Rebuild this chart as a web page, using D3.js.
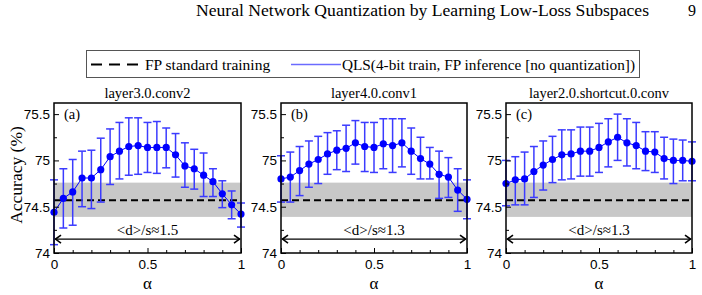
<!DOCTYPE html>
<html><head><meta charset="utf-8">
<script src="https://cdn.jsdelivr.net/npm/d3@7"></script>
<style>body{margin:0;background:#fff}svg{display:block}</style>
</head><body>
<svg id="c" width="702" height="295"></svg>
<script>
const alphas = [0,0.05,0.1,0.15,0.2,0.25,0.3,0.35,0.4,0.45,0.5,0.55,0.6,0.65,0.7,0.75,0.8,0.85,0.9,0.95,1];
const panelTitles = ["layer3.0.conv2","layer4.0.conv1","layer2.0.shortcut.0.conv"];
const panelTags = ["(a)","(b)","(c)"];
const ratioLabels = ["<d>/s\u22481.5","<d>/s\u22481.3","<d>/s\u22481.3"];
const accA = [74.44,74.59,74.66,74.81,74.81,74.90,75.04,75.10,75.15,75.16,75.14,75.14,75.14,75.06,74.94,74.91,74.84,74.77,74.64,74.52,74.42];
const hiA  = [74.79,74.91,75.01,75.10,75.11,75.24,75.34,75.41,75.46,75.46,75.41,75.42,75.35,75.29,75.19,75.12,75.08,74.91,74.78,74.67,74.54];
const loA  = [74.09,74.27,74.30,74.50,74.48,74.55,74.74,74.80,74.84,74.85,74.87,74.86,74.92,74.82,74.71,74.69,74.61,74.61,74.49,74.37,74.28];
const accB = [74.80,74.82,74.89,74.96,75.01,75.07,75.11,75.13,75.19,75.15,75.14,75.18,75.16,75.19,75.10,75.02,74.96,74.85,74.82,74.68,74.58];
const hiB  = [75.05,75.09,75.15,75.21,75.26,75.30,75.32,75.38,75.43,75.41,75.41,75.45,75.45,75.45,75.35,75.25,75.14,75.10,75.03,74.91,74.79];
const loB  = [74.55,74.55,74.62,74.71,74.75,74.85,74.90,74.88,74.96,74.88,74.87,74.91,74.87,74.93,74.85,74.80,74.80,74.59,74.60,74.45,74.37];
const accC = [74.75,74.79,74.80,74.88,74.95,75.01,75.06,75.07,75.10,75.10,75.14,75.20,75.25,75.19,75.16,75.10,75.09,75.02,75.00,75.00,74.99];
const hiC  = [75.00,75.04,75.09,75.15,75.21,75.26,75.33,75.33,75.36,75.36,75.40,75.45,75.50,75.45,75.41,75.31,75.31,75.25,75.23,75.22,75.20];
const loC  = [74.51,74.52,74.52,74.60,74.68,74.76,74.79,74.80,74.83,74.83,74.87,74.93,75.00,74.94,74.91,74.89,74.87,74.80,74.75,74.78,74.78];
const fpMean = 74.57, fpLo = 74.39, fpHi = 74.76;
const arrowLevel = 74.15;
const yTicks = [74, 74.5, 75, 75.5];
const yTickLabels = ["74","74.5","75","75.5"];
const yMinor = [74.25, 74.75, 75.25];
const xTicks = [0, 0.5, 1];
const xTickLabels = ["0","0.5","1"];
const xMinor = [0.1,0.2,0.3,0.4,0.6,0.7,0.8,0.9];
const headerText = "Neural Network Quantization by Learning Low-Loss Subspaces";
const pageNum = "9";
const legendLabels = ["FP standard training","QLS(4-bit train, FP inference [no quantization])"];

const series = [
  {acc: accA, lo: loA, hi: hiA},
  {acc: accB, lo: loB, hi: hiB},
  {acc: accC, lo: loC, hi: hiC}
];
const panelX = [[54,241],[281,467],[506,692]];
const plotTop = 103, plotBottom = 253;
const serif = "'Liberation Serif','Times New Roman',serif";
const sans = "'Liberation Sans',Arial,sans-serif";
const blue = "#0000ff", errBlue = "#3b3bff";

const svg = d3.select("#c");

// header
svg.append("text").attr("x", 196).attr("y", 16).attr("font-family", serif).attr("font-size", 16)
  .attr("textLength", 453).attr("lengthAdjust", "spacingAndGlyphs").text(headerText);
svg.append("text").attr("x", 696).attr("y", 16).attr("text-anchor","end").attr("font-family", serif).attr("font-size", 16).text(pageNum);

// legend
const lg = svg.append("g");
lg.append("rect").attr("x", 86.5).attr("y", 50.5).attr("width", 553).attr("height", 27)
  .attr("fill","#fff").attr("stroke","#555").attr("stroke-width",1);
lg.append("line").attr("x1",91).attr("x2",143).attr("y1",64.5).attr("y2",64.5)
  .attr("stroke","#000").attr("stroke-width",2).attr("stroke-dasharray","11,7");
lg.append("text").attr("x",145).attr("y",69.5).attr("font-family",serif).attr("font-size",15.5).text(legendLabels[0]);
lg.append("line").attr("x1",291).attr("x2",341).attr("y1",64.5).attr("y2",64.5)
  .attr("stroke","#6b6bff").attr("stroke-width",1.3);
lg.append("text").attr("x",342).attr("y",69.5).attr("font-family",serif).attr("font-size",15.5)
  .attr("textLength",293).attr("lengthAdjust","spacingAndGlyphs").text(legendLabels[1]);

// y label
svg.append("text").attr("transform","translate(22,175) rotate(-90)").attr("text-anchor","middle")
  .attr("font-family",serif).attr("font-size",17.5).text("Accuracy (%)");

series.forEach((s, i) => {
  const [x0, x1] = panelX[i];
  const x = d3.scaleLinear().domain([0,1]).range([x0, x1]);
  const y = d3.scaleLinear().domain([74, 75.62]).range([plotBottom, plotTop]);
  const g = svg.append("g");

  g.append("rect").attr("x", x(0)).attr("width", x(1)-x(0))
    .attr("y", y(fpHi)).attr("height", y(fpLo)-y(fpHi)).attr("fill","#c8c8c8");
  g.append("line").attr("x1", x(0)).attr("x2", x(1)).attr("y1", y(fpMean)).attr("y2", y(fpMean))
    .attr("stroke","#000").attr("stroke-width",2).attr("stroke-dasharray","7,4");

  const ay = y(arrowLevel);
  const ag = g.append("g").attr("stroke","#000").attr("fill","none").attr("stroke-width",1.2);
  ag.append("line").attr("x1", x(0)+1).attr("x2", x(1)-1).attr("y1", ay).attr("y2", ay);
  ag.append("path").attr("d", `M${x(0)+7},${ay-4} L${x(0)+1.5},${ay} L${x(0)+7},${ay+4}`).attr("stroke-width",1.6);
  ag.append("path").attr("d", `M${x(1)-7},${ay-4} L${x(1)-1.5},${ay} L${x(1)-7},${ay+4}`).attr("stroke-width",1.6);
  g.append("text").attr("x", (x(0)+x(1))/2).attr("y", ay-4).attr("text-anchor","middle")
    .attr("font-family",serif).attr("font-size",15).text(ratioLabels[i]);

  const eb = g.append("g").attr("stroke", errBlue).attr("stroke-width",1.5);
  alphas.forEach((a, j) => {
    const cx = x(a);
    eb.append("line").attr("x1",cx).attr("x2",cx).attr("y1",y(s.lo[j])).attr("y2",y(s.hi[j]));
    eb.append("line").attr("x1",cx-4).attr("x2",cx+4).attr("y1",y(s.lo[j])).attr("y2",y(s.lo[j]));
    eb.append("line").attr("x1",cx-4).attr("x2",cx+4).attr("y1",y(s.hi[j])).attr("y2",y(s.hi[j]));
  });
  g.append("path").datum(alphas.map((a,j)=>[a, s.acc[j]]))
    .attr("fill","none").attr("stroke",blue).attr("stroke-width",1)
    .attr("d", d3.line().x(d=>x(d[0])).y(d=>y(d[1])));
  g.selectAll("circle.pt").data(alphas.map((a,j)=>[a, s.acc[j]])).join("circle")
    .attr("cx", d=>x(d[0])).attr("cy", d=>y(d[1])).attr("r",3.6).attr("fill",blue);

  const ya = g.append("g").attr("transform",`translate(${x0},0)`)
    .call(d3.axisLeft(y).tickValues(yTicks).tickFormat((d,k)=>yTickLabels[k]).tickSizeInner(-5).tickSizeOuter(0).tickPadding(4));
  ya.select(".domain").remove();
  ya.selectAll("text").attr("font-family",sans).attr("font-size",13.5).attr("fill","#000");
  ya.selectAll("line").attr("stroke","#000");
  const ym = g.append("g").attr("transform",`translate(${x0},0)`)
    .call(d3.axisLeft(y).tickValues(yMinor).tickFormat("").tickSizeInner(-3).tickSizeOuter(0));
  ym.select(".domain").remove();

  const xa = g.append("g").attr("transform",`translate(0,${plotBottom})`)
    .call(d3.axisBottom(x).tickValues(xTicks).tickFormat((d,k)=>xTickLabels[k]).tickSizeInner(-5).tickSizeOuter(0).tickPadding(6));
  xa.select(".domain").remove();
  xa.selectAll("text").attr("font-family",sans).attr("font-size",13.5).attr("fill","#000");
  const xm = g.append("g").attr("transform",`translate(0,${plotBottom})`)
    .call(d3.axisBottom(x).tickValues(xMinor).tickFormat("").tickSizeInner(-3).tickSizeOuter(0));
  xm.select(".domain").remove();

  g.append("rect").attr("x", x0).attr("y", plotTop).attr("width", x1-x0).attr("height", plotBottom-plotTop)
    .attr("fill","none").attr("stroke","#000").attr("stroke-width",1.5);

  g.append("text").attr("x",(x0+x1)/2).attr("y",plotTop-5).attr("text-anchor","middle")
    .attr("font-family",serif).attr("font-size",14.5).text(panelTitles[i]);
  g.append("text").attr("x",x0+10).attr("y",plotTop+16).attr("font-family",serif).attr("font-size",14.5).text(panelTags[i]);
  g.append("text").attr("x",(x0+x1)/2).attr("y",289).attr("text-anchor","middle")
    .attr("font-family",serif).attr("font-size",17).text("\u03b1");
});
</script>
</body></html>
